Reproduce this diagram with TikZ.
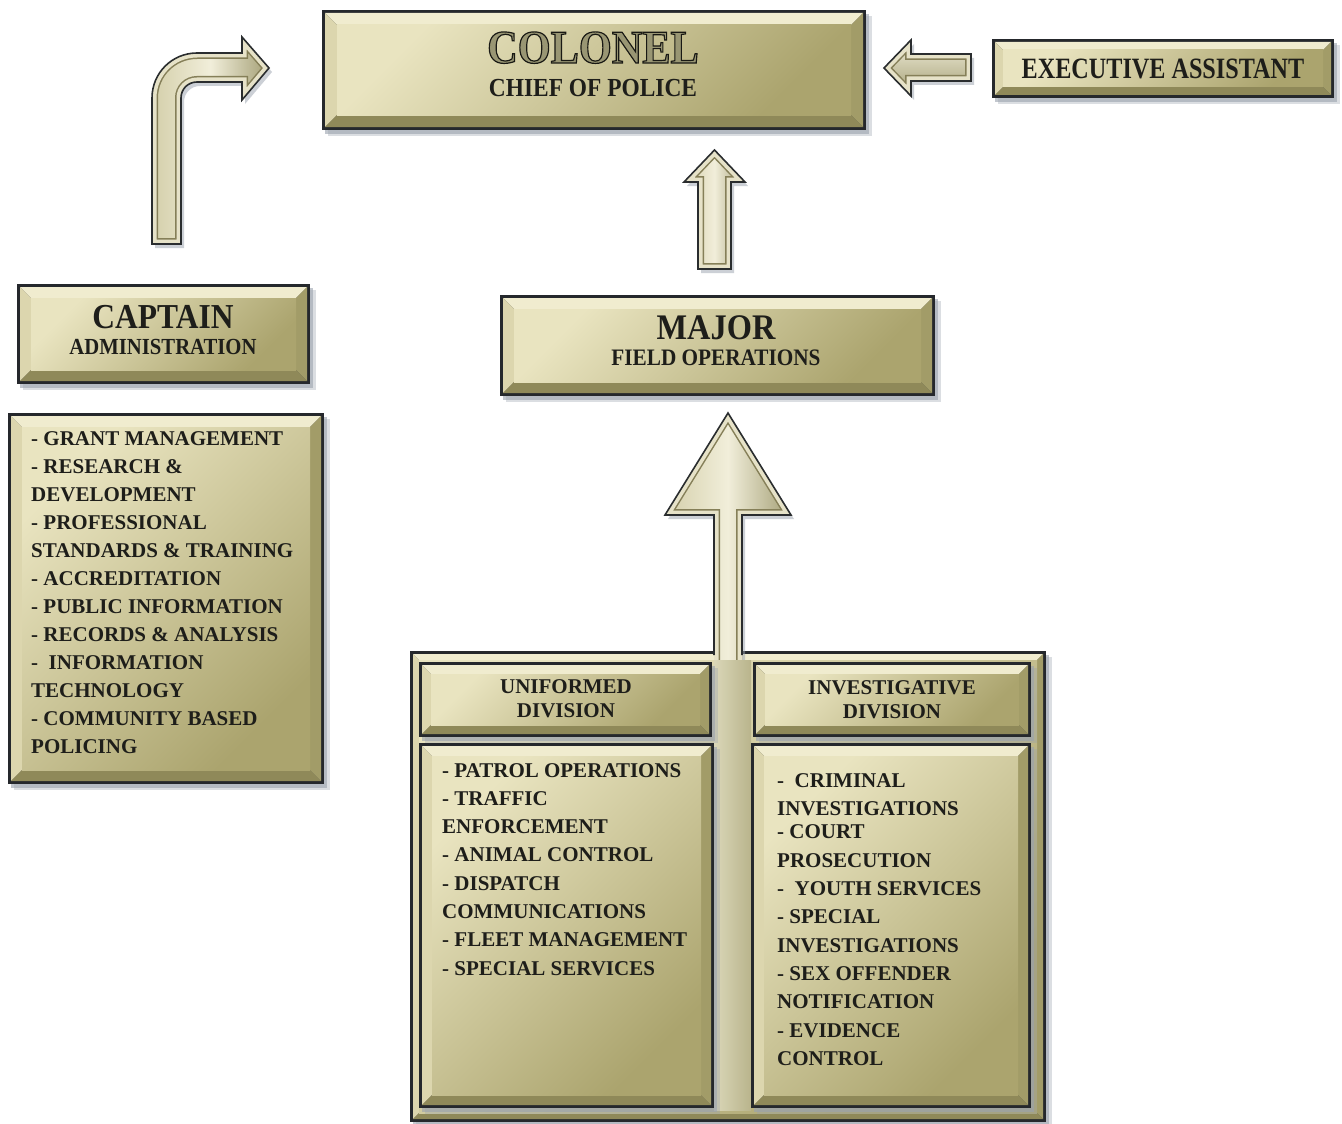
\documentclass[tikz,border=0pt]{standalone}
\usepackage{fontspec}
\setmainfont{Liberation Serif}
\newfontfamily\tA{Liberation Serif}[FakeStretch=0.9]
\newfontfamily\tB{Liberation Serif}[FakeStretch=0.82]
\usetikzlibrary{calc}

\definecolor{borderc}{HTML}{25282C}
\definecolor{shadowc}{HTML}{9AA2AE}
\definecolor{bevT}{HTML}{F0ECCF}
\definecolor{bevL}{HTML}{DCD6AE}
\definecolor{bevB}{HTML}{8F8959}
\definecolor{bevR}{HTML}{A29C68}
\definecolor{faceA}{HTML}{E9E4C0}
\definecolor{faceB}{HTML}{ABA46E}
\definecolor{txtc}{HTML}{1E1E1A}
\definecolor{arrL}{HTML}{D4CFAA}
\definecolor{arrM}{HTML}{F1EEDA}
\definecolor{arrR}{HTML}{A39E74}
\definecolor{arrband}{HTML}{857F58}
\definecolor{arredge}{HTML}{E6E2C8}
\definecolor{arrout}{HTML}{2A2D2F}
\definecolor{gapA}{HTML}{DAD7B8}
\definecolor{gapB}{HTML}{B9B48C}

\tikzset{
  boxnode/.style={inner sep=0pt, outer sep=0pt},
  faceshade/.style={top color=faceA, bottom color=faceB, shading angle=45},
  title/.style={inner sep=0pt, anchor=base, text=txtc},
  item/.style={inner sep=0pt, anchor=base west, text=txtc, font=\bfseries\fontsize{21}{21}\selectfont},
  arrowout/.style={draw=arrout, line width=1.6pt, line join=miter},
  vshade/.style={left color=arrL, right color=arrR, middle color=arrM},
  hshade/.style={top color=arrM, bottom color=arrR},
}

% beveled plate drawn on the named node #1 with bevel width #2
\newcommand\plate[2]{%
  \fill[shadowc, opacity=0.35] ([shift={(6,6)}]#1.north west) rectangle ([shift={(6,6)}]#1.south east);
  \fill[shadowc, opacity=0.6] ([shift={(3,4)}]#1.north west) rectangle ([shift={(3,4)}]#1.south east);
  \fill[borderc] (#1.north west) rectangle (#1.south east);
  \coordinate (#1-a) at ([shift={(3,3)}]#1.north west);
  \coordinate (#1-b) at ([shift={(-3,-3)}]#1.south east);
  \coordinate (#1-c) at ([shift={(3+#2,3+#2)}]#1.north west);
  \coordinate (#1-d) at ([shift={(-3-#2,-3-#2)}]#1.south east);
  \fill[bevT] (#1-a) -- (#1-b |- #1-a) -- (#1-d |- #1-c) -- (#1-c) -- cycle;
  \fill[bevL] (#1-a) -- (#1-c) -- (#1-c |- #1-d) -- (#1-a |- #1-b) -- cycle;
  \fill[bevB] (#1-a |- #1-b) -- (#1-b) -- (#1-d) -- (#1-c |- #1-d) -- cycle;
  \fill[bevR] (#1-b |- #1-a) -- (#1-b) -- (#1-d) -- (#1-d |- #1-c) -- cycle;
  \shade[faceshade] (#1-c) rectangle (#1-d);
}

% block arrow: #1 shading options, #2 closed path
\newcommand\blockarrow[2]{%
  \fill[shadowc, opacity=0.5, shift={(3,4)}] #2;
  \begin{scope}
    \clip #2;
    \shade[#1] #2;
    \draw[line width=12pt, arrband] #2;
    \draw[line width=9pt, arredge] #2;
  \end{scope}
  \draw[arrowout] #2;
}

\begin{document}
\begin{tikzpicture}[x=1pt, y=-1pt]
\useasboundingbox (0,0) rectangle (1342,1124);
\fill[white] (0,0) rectangle (1342,1124);

% box nodes
\node[boxnode, minimum width=544pt, minimum height=120pt] (colonel) at (594,70) {};
\node[boxnode, minimum width=342pt, minimum height=59pt] (exec) at (1163,68.5) {};
\node[boxnode, minimum width=293pt, minimum height=100pt] (captain) at (163.5,334) {};
\node[boxnode, minimum width=316pt, minimum height=371pt] (caplist) at (166,598.5) {};
\node[boxnode, minimum width=435pt, minimum height=101pt] (major) at (717.5,345.5) {};
\node[boxnode, minimum width=636pt, minimum height=471pt] (divs) at (728,886.5) {};
\node[boxnode, minimum width=293pt, minimum height=75pt] (unihead) at (565.5,699.5) {};
\node[boxnode, minimum width=278pt, minimum height=75pt] (invhead) at (892,699.5) {};
\node[boxnode, minimum width=295pt, minimum height=365pt] (unilist) at (566.5,925.5) {};
\node[boxnode, minimum width=280pt, minimum height=365pt] (invlist) at (891,925.5) {};

% arrows
\blockarrow{vshade}{(152,244) -- (152,98) .. controls (152,73) and (172,53) .. (197,53) -- (242,53) -- (242,37) -- (269,68) -- (242,100) -- (242,82) -- (197,82) .. controls (188,82) and (181,89) .. (181,98) -- (181,244) -- cycle}
\blockarrow{vshade}{(698,269) -- (698,182) -- (684,182) -- (714.5,150) -- (745,182) -- (731,182) -- (731,269) -- cycle}
\blockarrow{hshade}{(971,54) -- (911,54) -- (911,40) -- (884,68) -- (911,96) -- (911,81) -- (971,81) -- cycle}

% plates
\plate{colonel}{12}
\plate{exec}{8}
\plate{captain}{11}
\plate{caplist}{11}
\plate{major}{11}
\plate{divs}{6}

% big arrow into the divisions frame
\fill[shadowc, opacity=0.5] (717,700) -- (717,519) -- (668,519) -- (731,417) -- (794,519) -- (745,519) -- (745,700) -- cycle;
\begin{scope}
  \clip (714,700) -- (714,515) -- (665,515) -- (728,413) -- (791,515) -- (742,515) -- (742,700) -- cycle;
  \shade[vshade] (714,700) -- (714,515) -- (665,515) -- (728,413) -- (791,515) -- (742,515) -- (742,700) -- cycle;
  \draw[line width=12pt, arrband] (714,700) -- (714,515) -- (665,515) -- (728,413) -- (791,515) -- (742,515) -- (742,700);
  \draw[line width=9pt, arredge] (714,700) -- (714,515) -- (665,515) -- (728,413) -- (791,515) -- (742,515) -- (742,700);
\end{scope}
\shade[left color=gapA, right color=gapB] (714,660) rectangle (751,1110);
\draw[arrowout] (714,655) -- (714,515) -- (665,515) -- (728,413) -- (791,515) -- (742,515) -- (742,655);

\plate{unihead}{9}
\plate{invhead}{9}
\plate{unilist}{10}
\plate{invlist}{10}

% titles
\node[title, font=\tA\bfseries\fontsize{47}{47}\selectfont] (tcol) at (593,63)
  {\addfontfeature{FakeBold=2.5}\special{pdf:bcolor [0.60 0.59 0.45] [0.10 0.10 0.08]}COLONEL\special{pdf:ecolor}};
\node[title, font=\tA\bfseries\fontsize{26}{26}\selectfont] (tchief) at (593,96) {CHIEF OF POLICE};
\node[title, font=\tB\bfseries\fontsize{29.5}{29.5}\selectfont] (texec) at (1163,79) {EXECUTIVE ASSISTANT};
\node[title, font=\tA\bfseries\fontsize{35}{35}\selectfont] (tcap) at (163,328) {CAPTAIN};
\node[title, font=\tA\bfseries\fontsize{23}{23}\selectfont] (tadm) at (163,354) {ADMINISTRATION};
\node[title, font=\tA\bfseries\fontsize{36}{36}\selectfont] (tmaj) at (716,339) {MAJOR};
\node[title, font=\tA\bfseries\fontsize{23.6}{23.6}\selectfont] (tfield) at (716,365) {FIELD OPERATIONS};
\node[title, font=\bfseries\fontsize{21}{21}\selectfont] (tuni1) at (566,693) {UNIFORMED};
\node[title, font=\bfseries\fontsize{21}{21}\selectfont] (tuni2) at (566,717) {DIVISION};
\node[title, font=\bfseries\fontsize{21}{21}\selectfont] (tinv1) at (892,694) {INVESTIGATIVE};
\node[title, font=\bfseries\fontsize{21}{21}\selectfont] (tinv2) at (892,718) {DIVISION};

% lists
\foreach \t [count=\i] in {- GRANT MANAGEMENT, - RESEARCH \&, DEVELOPMENT, - PROFESSIONAL,
  STANDARDS \& TRAINING, - ACCREDITATION, - PUBLIC INFORMATION, - RECORDS \& ANALYSIS,
  -\ \ INFORMATION, TECHNOLOGY, - COMMUNITY BASED, POLICING}
  \node[item] (cap\i) at (31,{445+28*(\i-1)}) {\t};

\foreach \t [count=\i] in {- PATROL OPERATIONS, - TRAFFIC, ENFORCEMENT, - ANIMAL CONTROL,
  - DISPATCH, COMMUNICATIONS, - FLEET MANAGEMENT, - SPECIAL SERVICES}
  \node[item] (uni\i) at (442,{777+28.3*(\i-1)}) {\t};

\foreach \y/\t [count=\i] in {787/{-\ \ CRIMINAL}, 815/INVESTIGATIONS, 838/{- COURT},
  867/PROSECUTION, 895/{-\ \ YOUTH SERVICES}, 923/{- SPECIAL}, 952/INVESTIGATIONS,
  980/{- SEX OFFENDER}, 1008/NOTIFICATION, 1037/{- EVIDENCE}, 1065/CONTROL}
  \node[item] (inv\i) at (777,\y) {\t};
\end{tikzpicture}
\end{document}
